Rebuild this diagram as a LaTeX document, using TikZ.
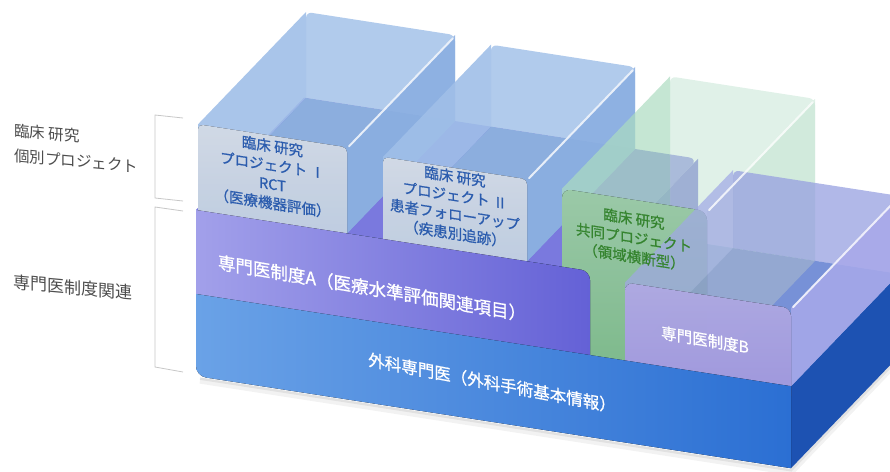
\documentclass[tikz,border=0pt]{standalone}
\usepackage{fontspec}
\newfontfamily\jp{Noto Sans CJK JP}
\newfontfamily\jpb[FakeBold=0.8]{Noto Sans CJK JP}

\definecolor{projblue}{HTML}{2B5CAE}
\definecolor{kyodogreen}{HTML}{35842F}
\definecolor{sidegray}{HTML}{4D4D4D}

% open tray: back wall, left wall, floor, right wall (u0,u1,v0,v1,colour set)
\newcommand{\trayfaces}[5]{%
  \fill[#5back] (#1,#3,108) [rounded corners=6pt] -- (#1,#4,108) -- (#2,#4,108) [sharp corners] -- (#2,#3,108) -- cycle;
  \fill[#5left] (#1,#3,0) -- (#1,#4,0) -- (#1,#4,108) -- (#1,#3,108) -- cycle;
  \fill[#5floor] (#1,#3,0) -- (#2,#3,0) -- (#2,#3,108) -- (#1,#3,108) -- cycle;
  \fill[#5side] (#2,#3,0) -- (#2,#4,0) -- (#2,#4,108) -- (#2,#3,108) -- cycle;
}

\begin{document}
\begin{tikzpicture}[
  blueback/.style={fill={rgb,255:red,169;green,197;blue,234}, fill opacity=.9},
  blueleft/.style={fill={rgb,255:red,160;green,191;blue,232}, fill opacity=.9},
  bluefloor/.style={fill={rgb,255:red,140;green,174;blue,222}},
  blueside/.style={fill={rgb,255:red,138;green,174;blue,225}, fill opacity=.88},
  bluefront/.style={top color={rgb,255:red,224;green,233;blue,246}, bottom color={rgb,255:red,203;green,218;blue,240}, fill opacity=.93},
  greenback/.style={fill={rgb,255:red,203;green,232;blue,216}, fill opacity=.6},
  greenleft/.style={fill={rgb,255:red,172;green,220;blue,192}, fill opacity=.7},
  greenfloor/.style={fill={rgb,255:red,159;green,211;blue,176}, fill opacity=.8},
  greenside/.style={fill={rgb,255:red,198;green,229;blue,211}, fill opacity=.55},
  greenfront/.style={top color={rgb,255:red,167;green,217;blue,181}, bottom color={rgb,255:red,134;green,199;blue,149}, fill opacity=.92},
  lilacback/.style={fill={rgb,255:red,151;green,160;blue,224}, fill opacity=.75},
  lilacleft/.style={fill={rgb,255:red,160;green,167;blue,230}, fill opacity=.7},
  lilacfloor/.style={fill={rgb,255:red,139;green,150;blue,214}, fill opacity=.7},
  lilacside/.style={fill={rgb,255:red,168;green,169;blue,234}, fill opacity=.85},
  lilacfront/.style={top color={rgb,255:red,187;green,181;blue,242}, bottom color={rgb,255:red,170;green,163;blue,236}, fill opacity=.93},
  atop/.style={fill={rgb,255:red,122;green,121;blue,222}},
  aside/.style={fill={rgb,255:red,95;green,94;blue,207}},
  afront/.style={left color={rgb,255:red,162;green,160;blue,234}, right color={rgb,255:red,100;green,97;blue,214}},
  basetop/.style={fill={rgb,255:red,74;green,134;blue,220}},
  baseside/.style={fill={rgb,255:red,29;green,82;blue,178}},
  basefront/.style={left color={rgb,255:red,106;green,162;blue,231}, right color={rgb,255:red,43;green,111;blue,211}},
  glint/.style={draw=white, line width=2pt, line cap=round, draw opacity=.8},
  bracket/.style={draw=black!22, line width=0.8pt},
  traytext/.style={font=\jpb\fontsize{14.5}{19}\selectfont, align=center, yslant=-0.155, inner sep=0pt},
  facetext/.style={font=\jpb\fontsize{16}{19}\selectfont, text=white, yslant=-0.17, inner sep=0pt},
  sidetext/.style={font=\jp\fontsize{15.5}{25}\selectfont, text=sidegray, align=left, yslant=-0.09, inner sep=0pt}
]
\useasboundingbox (0pt,0pt) rectangle (890pt,-471pt);
\clip (0pt,0pt) rectangle (890pt,-471pt);

% Side labels
\node (lblkobetsu) [sidetext, anchor=west] at (14pt,-143pt) {臨床 研究\\個別プロジェクト};
\node (lblsenmon) [sidetext, font=\jp\fontsize{17}{20}\selectfont, anchor=west] at (13pt,-282pt) {専門医制度関連};
\draw [bracket] (183pt,-118pt) -- (155pt,-115pt) -- (155pt,-198pt) -- (183pt,-201pt);
\draw [bracket] (183pt,-211pt) -- (155pt,-207pt) -- (155pt,-367pt) -- (183pt,-372pt);

\begin{scope}[shift={(196pt,-376pt)}, x={(1pt,-0.155pt)}, y={(0pt,1pt)}, z={(1pt,1.04pt)}]
% Shadow
\draw [line width=6pt, draw=black, draw opacity=.05] (4,-4,0) -- (595,-4,0) -- (595,-4,108);
\draw [line width=2.5pt, draw=black, draw opacity=.07] (4,-2,0) -- (595,-2,0) -- (595,-2,108);

% Base slab
\fill [basetop] (0,82,0) -- (595,82,0) -- (595,82,108) -- (0,82,108) -- cycle;
\fill [baseside] (595,0,0) -- (595,82,0) -- (595,82,108) -- (595,0,108) -- cycle;

% Box A (back parts)
\fill [atop] (0,166,0) -- (394,166,0) [rounded corners=9pt] -- (394,166,108) [sharp corners] -- (0,166,108) -- cycle;
\fill [aside] (394,82,0) -- (394,166,0) -- (394,166,108) -- (394,82,108) -- cycle;

% Project I
\trayfaces{2}{151}{166}{252}{blue}
\fill [bluefront] (2,156,0) [rounded corners=5pt] -- (2,252,0) -- (151,252,0) [sharp corners] -- (151,156,0) -- cycle;

% Project II
\trayfaces{187}{331}{166}{248}{blue}
\fill [bluefront] (187,156,0) [rounded corners=5pt] -- (187,248,0) -- (331,248,0) [sharp corners] -- (331,156,0) -- cycle;

% Joint project
\trayfaces{366}{511}{82}{244}{green}
\fill [greenfront] (366,72,0) [rounded corners=9pt] -- (366,244,0) -- (511,244,0) [sharp corners] -- (511,72,0) -- cycle;

% Box A (front)
\fill [afront] (0,72,0) -- (0,166,0) [rounded corners=9pt] -- (394,166,0) [sharp corners] -- (394,72,0) -- cycle;

% Box B
\trayfaces{429}{595}{82}{160}{lilac}
\fill [lilacfront] (429,72,0) [rounded corners=8pt] -- (429,160,0) -- (595,160,0) [sharp corners] -- (595,72,0) -- cycle;

% Base front
\fill [basefront] (595,82,0) -- (0,82,0) [rounded corners=10pt] -- (0,0,0) [sharp corners] -- (595,0,0) -- cycle;

% Rim highlights
\draw [glint] (151,251,2) -- (151,251,106);
\draw [glint] (331,247,2) -- (331,247,106);
\draw [glint] (511,243,2) -- (511,243,106);
\draw [glint] (595,159,2) -- (595,159,106);

% Texts
\node (projI) [traytext, text=projblue] at (76.5,213,0) {臨床 研究\\プロジェクト Ⅰ\\RCT\\（医療機器評価）};
\node (projII) [traytext, text=projblue] at (259,211,0) {臨床 研究\\プロジェクト Ⅱ\\患者フォローアップ\\（疾患別追跡）};
\node (kyodo) [traytext, text=kyodogreen] at (438,206,0) {臨床 研究\\共同プロジェクト\\（領域横断型）};
\node (senmonA) [facetext, font=\jpb\fontsize{17.5}{19}\selectfont] at (176,115,0) {専門医制度A（医療水準評価関連項目）};
\node (senmonB) [facetext, font=\jpb\fontsize{15.5}{19}\selectfont] at (509,115,0) {専門医制度B};
\node (geka) [facetext, font=\jpb\fontsize{16.5}{19}\selectfont, yslant=-0.02] at (296,39,0) {外科専門医（外科手術基本情報）};
\end{scope}
\end{tikzpicture}
\end{document}
